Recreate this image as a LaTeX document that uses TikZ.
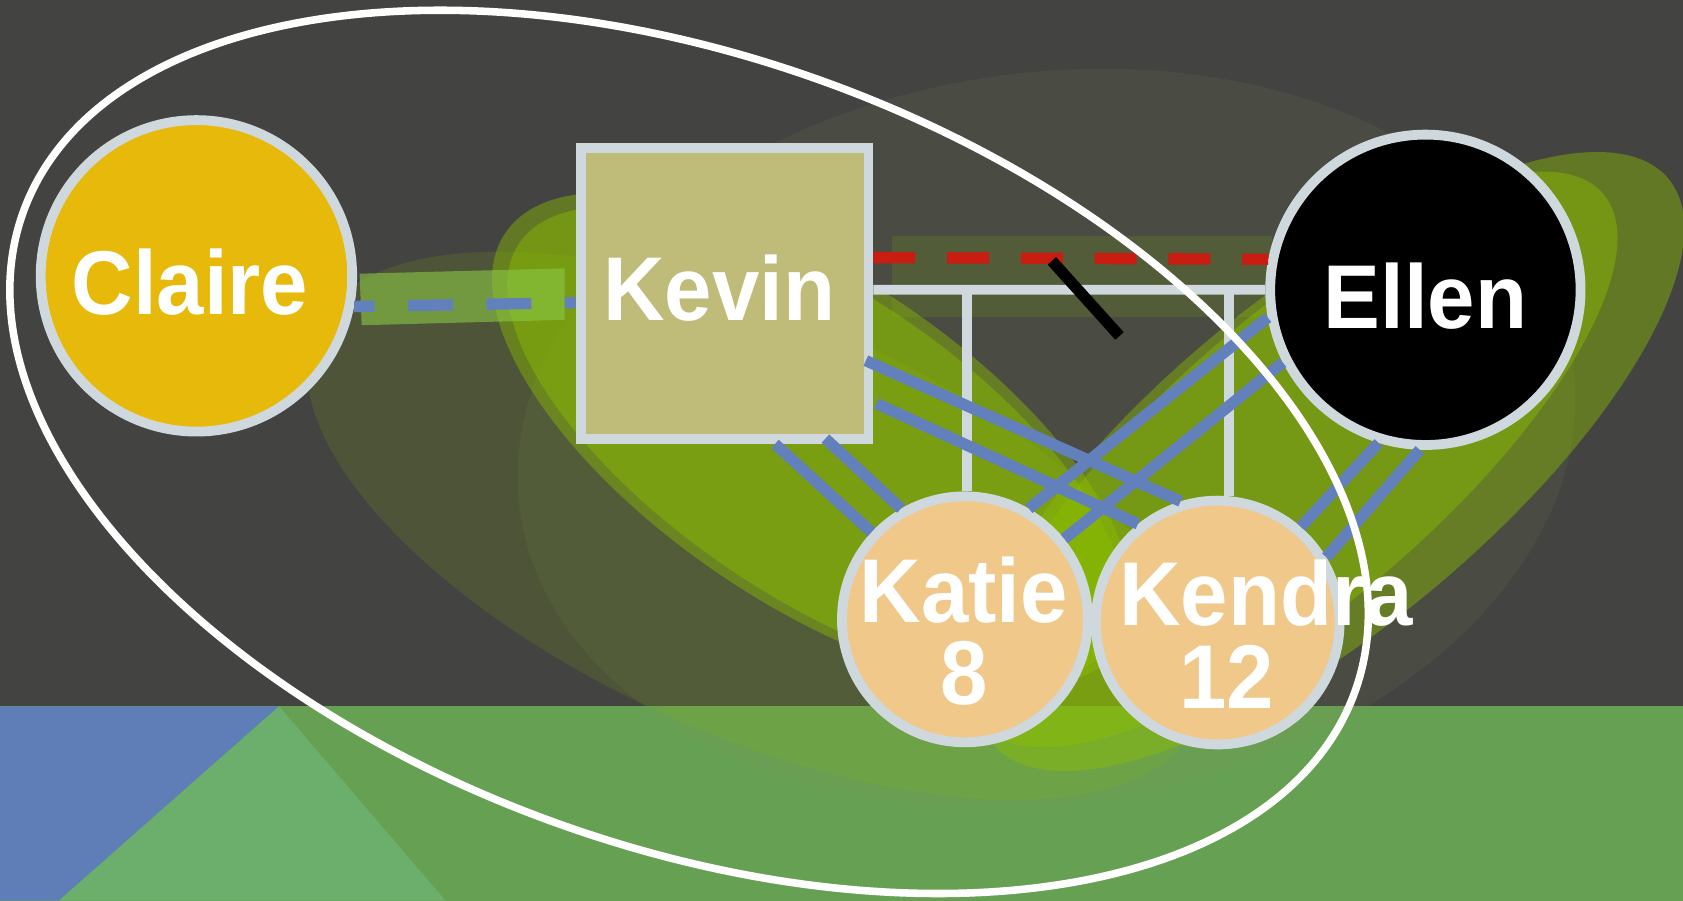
\documentclass[tikz,border=0pt]{standalone}
\usepackage{fontspec}
\newfontfamily\lab{Liberation Sans}[FakeStretch=0.94]
\usetikzlibrary{calc}
\definecolor{bgdark}{HTML}{434341}
\definecolor{grass}{HTML}{66A153}
\definecolor{bluepoly}{HTML}{5F7EB8}
\definecolor{lightgrass}{HTML}{6CAE6C}
\definecolor{bord}{HTML}{CFD8DC}
\definecolor{claireY}{HTML}{E6B90B}
\definecolor{kevinF}{HTML}{BFBB79}
\definecolor{childF}{HTML}{F0C88A}
\definecolor{lime}{HTML}{8CBE00}
\definecolor{faintc}{HTML}{828F58}
\definecolor{rectg}{HTML}{8CC846}
\definecolor{blueln}{HTML}{6281BC}
\definecolor{redln}{HTML}{C91D12}
\begin{document}
\begin{tikzpicture}[x=0.01cm,y=-0.01cm,
  person/.style={circle,draw=bord,line width=2.6pt,inner sep=0pt},
  lbl/.style={text=white,inner sep=0pt,font=\lab\bfseries\fontsize{24}{21.9}\selectfont},
  greenov/.style={fill=lime,fill opacity=0.43},
  gline/.style={draw=bord,line width=2.6pt},
  bline/.style={draw=blueln,line width=3pt},
  rline/.style={draw=redln,line width=3pt,dash pattern=on 11.1pt off 8.45pt},
  slashln/.style={draw=black,line width=3pt},
  whiteln/.style={draw=white,line width=2pt}]
\useasboundingbox (0,0) rectangle (1568,839);
% background
\fill[bgdark] (0,0) rectangle (1568,658);
\fill[grass] (0,658) rectangle (1568,839);
\fill[bluepoly] (0,658) -- (260,658) -- (55,839) -- (0,839) -- cycle;
\fill[lightgrass] (260,658) -- (55,839) -- (415,839) -- cycle;
% faint ellipses
\fill[faintc,fill opacity=0.12,rotate around={8:(975,408)}] (975,408) ellipse [x radius=4.95cm, y radius=3.4cm];
\fill[lime,fill opacity=0.14,rotate around={-24:(705,490)}] (705,490) ellipse [x radius=4.5cm, y radius=1.95cm];
% green relationship ellipses
\fill[greenov,rotate around={-34:(757,410)}] (757,410) ellipse [x radius=3.45cm, y radius=1.52cm];
\fill[greenov,rotate around={-34:(760,413)}] (760,413) ellipse [x radius=3.33cm, y radius=1.42cm];
\fill[greenov,rotate around={40:(1240,430)}] (1240,430) ellipse [x radius=4.1cm, y radius=1.52cm];
\fill[greenov,rotate around={40.6:(1205,428)}] (1205,428) ellipse [x radius=3.8cm, y radius=1.36cm];
% overlay rectangles
\fill[rectg,fill opacity=0.6] (335,255) -- (526,250) -- (526,298) -- (337,303) -- cycle;
\fill[lime,fill opacity=0.15] (831,220) rectangle (1185,295);
% persons
\node[person,fill=claireY,minimum size=2.90cm] (Claire) at (183,257) {};
\node[draw=bord,line width=2.6pt,fill=kevinF,minimum width=2.68cm,minimum height=2.71cm,inner sep=0pt] (Kevin) at (675,273.5) {};
\node[person,fill=black,minimum size=2.89cm] (Ellen) at (1328,270) {};
\node[person,fill=childF,minimum size=2.29cm] (Katie) at (899,577) {};
\node[person,fill=childF,minimum size=2.27cm] (Kendra) at (1134.5,580) {};
% marriage and child lines
\draw[gline] ([yshift=0.035cm]Kevin.east) -- (Ellen.west);
\coordinate (m1) at (901,270);
\coordinate (m2) at (1145,270);
\draw[gline] (m1) -- (m1 |- Katie.north);
\draw[gline] (m2) -- (m2 |- Kendra.north);
% close relationships
\draw[bline] ($(Kevin.south)+(47,0)$) -- (Katie.137);
\draw[bline] ($(Kevin.south)+(94,-5)$) -- (Katie.120);
\draw[bline] ($(Kevin.east)+(-7,62.5)$) -- (Kendra.107);
\draw[bline] ($(Kevin.east)+(3,102.5)$) -- (Kendra.129);
\draw[bline] (Ellen.190) -- (Katie.60);
\draw[bline] (Ellen.207) -- (Katie.39);
\draw[bline] (Ellen.253) -- (Kendra.49);
\draw[bline] (Ellen.268) -- (Kendra.31);
\draw[bline,dash pattern=on 11.95pt off 8.82pt,dash phase=6.5pt] (Claire.349) -- ([yshift=-0.085cm]Kevin.west);
% conflict / separation
\draw[rline] ([yshift=0.335cm]Kevin.east) -- (Ellen.169.6);
\coordinate (s1) at (980,243);
\coordinate (s2) at (1043,313);
\draw[slashln] (s1) -- (s2);
% labels
\node[lbl] (tClaire) at (177,263) {Claire};
\node[lbl] (tKevin) at (670,268) {Kevin};
\node[lbl] (tEllen) at (1328,276) {Ellen};
\node[lbl,align=center] (tKatie) at (898,588) {Katie\\8};
\node[lbl,text width=2cm,align=center] (tKendra) at (1143,591) {\mbox{Kendra}\\12};
% household boundary
\draw[whiteln,rotate around={-19.8:(642,421)}] (642,421) ellipse [x radius=6.59cm, y radius=3.67cm];
\end{tikzpicture}
\end{document}
